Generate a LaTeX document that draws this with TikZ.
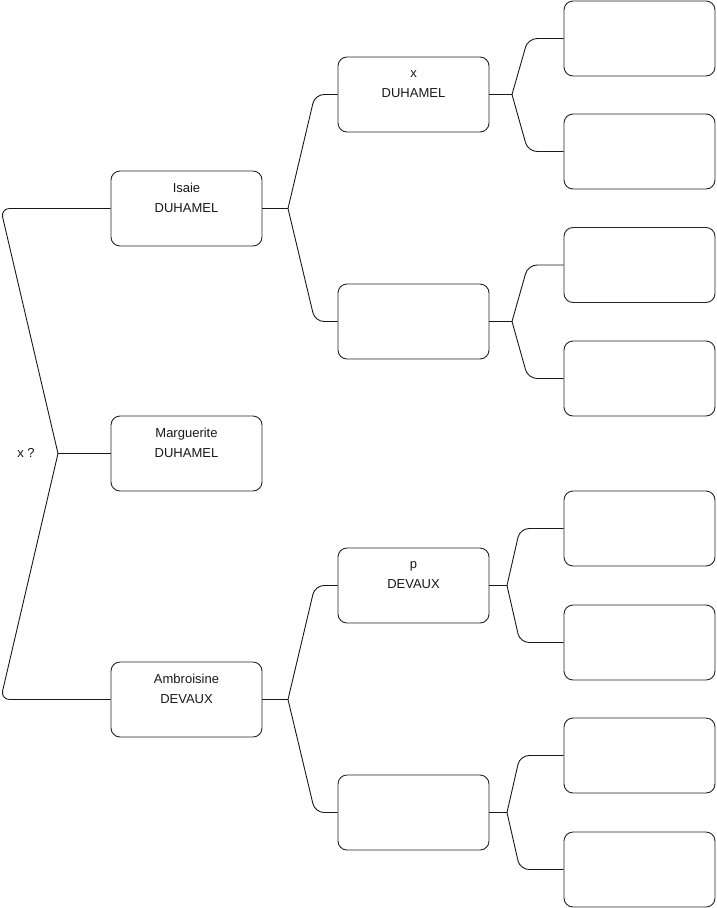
\documentclass[tikz,border=0pt]{standalone}
\usepackage{fontspec}
\setmainfont{Liberation Sans}
\usetikzlibrary{calc}
\begin{document}
\begin{tikzpicture}[x=1pt,y=-1pt,
  box/.style={draw=black!85,line width=0.9pt,rounded corners=9pt,minimum width=151pt,minimum height=75pt,inner sep=0pt,fill=white},
  txt/.style={font=\fontsize{13}{20}\selectfont,align=center,inner sep=0pt,text=black!90},
  link/.style={draw=black!90,line width=0.9pt},
  brace/.style={link,rounded corners=9pt}]
\useasboundingbox (0,0) rectangle (716,908);
% level 1
\node[box] (isaie) at (186.5,208.5) {};
\node[box] (marg) at (186.5,453.5) {};
\node[box] (ambr) at (186.5,699.5) {};
% level 2
\node[box] (xd) at (413.5,94.5) {};
\node[box] (e1) at (413.5,321.5) {};
\node[box] (pd) at (413.5,585.5) {};
\node[box] (e2) at (413.5,812.5) {};
% level 3
\node[box] (g1) at (639.5,38.5) {};
\node[box] (g2) at (639.5,151.5) {};
\node[box] (g3) at (639.5,265) {};
\node[box] (g4) at (639.5,378.5) {};
\node[box] (g5) at (639.5,528.5) {};
\node[box] (g6) at (639.5,642.5) {};
\node[box] (g7) at (639.5,755.5) {};
\node[box] (g8) at (639.5,869.5) {};
% texts
\node[txt] (isaieT) at ($(isaie.center)+(0,-10.5)$) {Isaie\\DUHAMEL};
\node[txt] (margT) at ($(marg.center)+(0,-10.5)$) {Marguerite\\DUHAMEL};
\node[txt] (ambrT) at ($(ambr.center)+(0,-10.5)$) {Ambroisine\\DEVAUX};
\node[txt] (xdT) at ($(xd.center)+(0,-10.5)$) {x\\DUHAMEL};
\node[txt] (pdT) at ($(pd.center)+(0,-10.5)$) {p\\DEVAUX};
\node[txt] (xq) at (26,452.5) {x ?};
% root brace
\coordinate (t0) at (58,453.5);
\draw[brace] (isaie.west) -- (0.6,208.5) -- (t0);
\draw[brace] (ambr.west) -- (0.6,699.5) -- (t0);
\draw[link] (t0) -- (marg.west);
% level 1 -> 2
\coordinate (t1) at (288,208.5);
\draw[link] (isaie.east) -- (t1);
\draw[brace] (xd.west) -- (315,94.5) -- (t1);
\draw[brace] (e1.west) -- (315,321.5) -- (t1);
\coordinate (t2) at (288,699.5);
\draw[link] (ambr.east) -- (t2);
\draw[brace] (pd.west) -- (315,585.5) -- (t2);
\draw[brace] (e2.west) -- (315,812.5) -- (t2);
% level 2 -> 3
\coordinate (t3) at (512,94.5);
\draw[link] (xd.east) -- (t3);
\draw[brace] (g1.west) -- (528,38.5) -- (t3);
\draw[brace] (g2.west) -- (528,151.5) -- (t3);
\coordinate (t4) at (512,321.5);
\draw[link] (e1.east) -- (t4);
\draw[brace] (g3.west) -- (528,265) -- (t4);
\draw[brace] (g4.west) -- (528,378.5) -- (t4);
\coordinate (t5) at (507,585.5);
\draw[link] (pd.east) -- (t5);
\draw[brace] (g5.west) -- (520,528.5) -- (t5);
\draw[brace] (g6.west) -- (520,642.5) -- (t5);
\coordinate (t6) at (507,812.5);
\draw[link] (e2.east) -- (t6);
\draw[brace] (g7.west) -- (520,755.5) -- (t6);
\draw[brace] (g8.west) -- (520,869.5) -- (t6);
\end{tikzpicture}
\end{document}
